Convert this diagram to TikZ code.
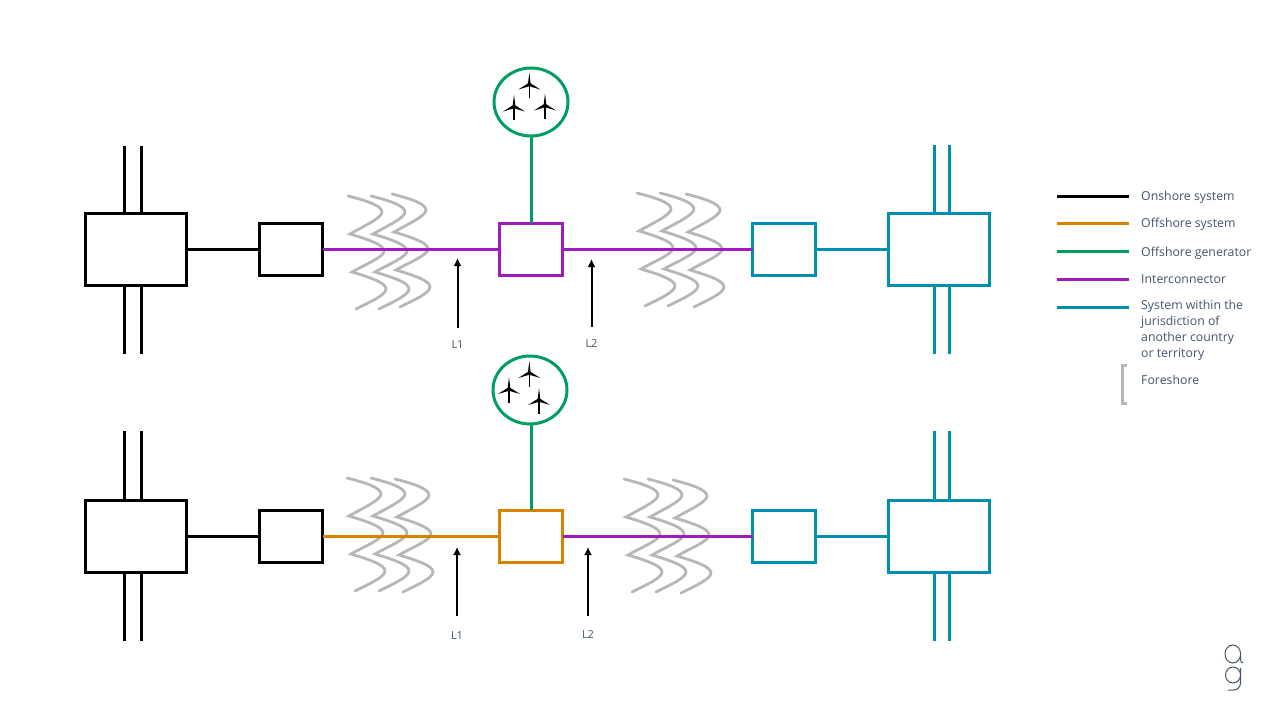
\documentclass[tikz,border=0pt]{standalone}
\usepackage{fontspec}
\usepackage{xcolor}
\setmainfont{Open Sans}
\usetikzlibrary{arrows.meta, positioning, calc, shapes.geometric}
\definecolor{onshore}{HTML}{000000}
\definecolor{offshore}{HTML}{D98200}
\definecolor{generator}{HTML}{009E60}
\definecolor{interconnector}{HTML}{A01BBB}
\definecolor{jurisdiction}{HTML}{008FB0}
\definecolor{foreshoregrey}{HTML}{B7B7B7}
\definecolor{labeltext}{HTML}{44546A}
\tikzset{
  link/.style={line width=3pt},
  busbox/.style={draw, link, rectangle, inner sep=0pt, outer sep=0pt, minimum width=101pt, minimum height=72pt},
  stationbox/.style={draw, link, rectangle, inner sep=0pt, outer sep=0pt, minimum width=63pt, minimum height=52pt},
  windfarm/.style={draw=generator, link, ellipse, inner sep=0pt, outer sep=0pt, minimum width=74pt, minimum height=68pt},
  legendtext/.style={anchor=base west, align=left, inner sep=0pt, text=labeltext, font=\fontsize{12.3}{16}\selectfont},
  lengthlabel/.style={inner xsep=0pt, inner ysep=12pt, text=labeltext, font=\fontsize{11}{12}\selectfont},
  lengtharrow/.style={line width=2pt, -{Latex[length=8pt,width=8pt]}},
  foreshore/.pic={
    \draw[foreshoregrey, line width=2.8pt, line cap=round]
      (0,0) .. controls (20,5) and (34,10) .. (34,16) .. controls (34,22) and (16,30) .. (2,38)
      .. controls (22,44) and (36,49) .. (36,55) .. controls (36,61) and (18,68) .. (4,76)
      .. controls (24,82) and (38,87) .. (38,93) .. controls (38,99) and (22,106) .. (8,113);
  },
  turbine/.pic={
    \fill[black] (-1.4,0) -- (0,-12) -- (1.4,0) -- cycle;
    \fill[black] (-0.6,-1.6) -- (-11,5) -- (0.6,1.6) -- cycle;
    \fill[black] (0.6,-1.6) -- (11,5) -- (-0.6,1.6) -- cycle;
    \fill[black] (-0.7,0) -- (-0.7,13.5) -- (0.7,13.5) -- (0.7,0) -- cycle;
  }
}
\begin{document}
\begin{tikzpicture}[x=1pt, y=-1pt]
  \useasboundingbox (0,0) rectangle (1280,720);

  % foreshore waves
  \foreach \wx/\wy in {348/196, 371/196, 392/194, 637/193, 660/193, 686/194,
                       347/478, 371/478, 395/479, 624/479, 648/479, 673/480}
    \pic at (\wx,\wy) {foreshore};

  % upper scheme
  \node[busbox, draw=onshore] (upperonshore) at (135.5,249.3) {};
  \node[stationbox, draw=onshore] (upperconverter) at (291,249.3) {};
  \node[stationbox, draw=interconnector] (upperhub) at (531,249.3) {};
  \node[stationbox, draw=jurisdiction] (upperforeign) at (784,249.3) {};
  \node[busbox, draw=jurisdiction] (uppergrid) at (939,249.3) {};
  \node[windfarm] (upperfarm) at (531,102) {};
  \pic at (529.3,84.5) {turbine};
  \pic at (514,106.5) {turbine};
  \pic at (545,105.5) {turbine};

  \draw[link, onshore] (upperonshore) -- (upperconverter);
  \draw[link, interconnector] (upperconverter) -- (upperhub);
  \draw[link, interconnector] (upperhub) -- (upperforeign);
  \draw[link, jurisdiction] (upperforeign) -- (uppergrid);
  \draw[link, generator] (upperfarm) -- (upperhub);

  \coordinate (ua) at (124.5,146);
  \coordinate (ub) at (141,146);
  \coordinate (uc) at (124.5,354);
  \coordinate (ud) at (141,354);
  \coordinate (ue) at (934.5,145);
  \coordinate (uf) at (949,145);
  \coordinate (ug) at (934.5,354);
  \coordinate (uh) at (949,354);
  \draw[link, onshore] (ua) -- (ua |- upperonshore.north);
  \draw[link, onshore] (ub) -- (ub |- upperonshore.north);
  \draw[link, onshore] (uc) -- (uc |- upperonshore.south);
  \draw[link, onshore] (ud) -- (ud |- upperonshore.south);
  \draw[link, jurisdiction] (ue) -- (ue |- uppergrid.north);
  \draw[link, jurisdiction] (uf) -- (uf |- uppergrid.north);
  \draw[link, jurisdiction] (ug) -- (ug |- uppergrid.south);
  \draw[link, jurisdiction] (uh) -- (uh |- uppergrid.south);

  \node[lengthlabel, inner ysep=13pt] (upperlone) at (457.5,345) {L1};
  \node[lengthlabel, inner ysep=13pt] (upperltwo) at (591.5,344) {L2};
  \coordinate (upperlonetip) at (457.5,258);
  \coordinate (upperltwotip) at (591.5,259);
  \draw[lengtharrow] (upperlone.north) -- (upperlonetip);
  \draw[lengtharrow] (upperltwo.north) -- (upperltwotip);

  % lower scheme
  \node[busbox, draw=onshore] (loweronshore) at (135.5,536) {};
  \node[stationbox, draw=onshore] (lowerconverter) at (291,536) {};
  \node[stationbox, draw=offshore] (lowerhub) at (531,536) {};
  \node[stationbox, draw=jurisdiction] (lowerforeign) at (784,536) {};
  \node[busbox, draw=jurisdiction] (lowergrid) at (939,536) {};
  \node[windfarm] (lowerfarm) at (530,390) {};
  \pic at (529.3,373) {turbine};
  \pic at (509,389) {turbine};
  \pic at (539,400) {turbine};

  \draw[link, onshore] (loweronshore) -- (lowerconverter);
  \draw[link, offshore] (lowerconverter) -- (lowerhub);
  \draw[link, interconnector] (lowerhub) -- (lowerforeign);
  \draw[link, jurisdiction] (lowerforeign) -- (lowergrid);
  \draw[link, generator] (lowerfarm.south -| lowerhub) -- (lowerhub);

  \coordinate (la) at (124.5,431);
  \coordinate (lb) at (141,431);
  \coordinate (lc) at (124.5,641);
  \coordinate (ld) at (141,641);
  \coordinate (le) at (934.5,431);
  \coordinate (lf) at (949,431);
  \coordinate (lg) at (934.5,641);
  \coordinate (lh) at (949,641);
  \draw[link, onshore] (la) -- (la |- loweronshore.north);
  \draw[link, onshore] (lb) -- (lb |- loweronshore.north);
  \draw[link, onshore] (lc) -- (lc |- loweronshore.south);
  \draw[link, onshore] (ld) -- (ld |- loweronshore.south);
  \draw[link, jurisdiction] (le) -- (le |- lowergrid.north);
  \draw[link, jurisdiction] (lf) -- (lf |- lowergrid.north);
  \draw[link, jurisdiction] (lg) -- (lg |- lowergrid.south);
  \draw[link, jurisdiction] (lh) -- (lh |- lowergrid.south);

  \node[lengthlabel, inner ysep=16pt] (lowerlone) at (457,636) {L1};
  \node[lengthlabel, inner ysep=15pt] (lowerltwo) at (588,635) {L2};
  \coordinate (lowerlonetip) at (457,547);
  \coordinate (lowerltwotip) at (588,547);
  \draw[lengtharrow] (lowerlone.north) -- (lowerlonetip);
  \draw[lengtharrow] (lowerltwo.north) -- (lowerltwotip);

  % legend
  \node[legendtext] (keyonshore) at (1141,200) {Onshore system};
  \node[legendtext] (keyoffshore) at (1141,227) {Offshore system};
  \node[legendtext] (keygenerator) at (1141,256) {Offshore generator};
  \node[legendtext] (keyinterconnector) at (1141,283) {Interconnector};
  \node[legendtext, anchor=north west] (keyjurisdiction) at (1141,299.5) {System within the\\jurisdiction of\\another country\\or territory};
  \node[legendtext] (keyforeshore) at (1141,384) {Foreshore};

  \coordinate (kaa) at (1057,196);
  \coordinate (kab) at (1129,196);
  \coordinate (kba) at (1057,223);
  \coordinate (kbb) at (1129,223);
  \coordinate (kca) at (1057,251);
  \coordinate (kcb) at (1129,251);
  \coordinate (kda) at (1057,279);
  \coordinate (kdb) at (1129,279);
  \coordinate (kea) at (1057,307);
  \coordinate (keb) at (1129,307);
  \draw[link, onshore] (kaa) -- (kab);
  \draw[link, offshore] (kba) -- (kbb);
  \draw[link, generator] (kca) -- (kcb);
  \draw[link, interconnector] (kda) -- (kdb);
  \draw[link, jurisdiction] (kea) -- (keb);
  \draw[foreshoregrey, line width=3pt] (1127,365.5) -- (1122,365.5) -- (1122,403) -- (1127,403);

  % logo
  \draw[labeltext, line width=1pt] (1225,654) arc (180:-180:7.8 and 9) (1240.6,654) -- (1240.6,660) arc (180:90:2.5 and 3);
  \draw[labeltext, line width=1pt] (1225.5,675) arc (180:-180:7.5 and 8) (1240.5,668) -- (1240.5,683) arc (0:90:7 and 7) -- (1228,690);
\end{tikzpicture}
\end{document}
